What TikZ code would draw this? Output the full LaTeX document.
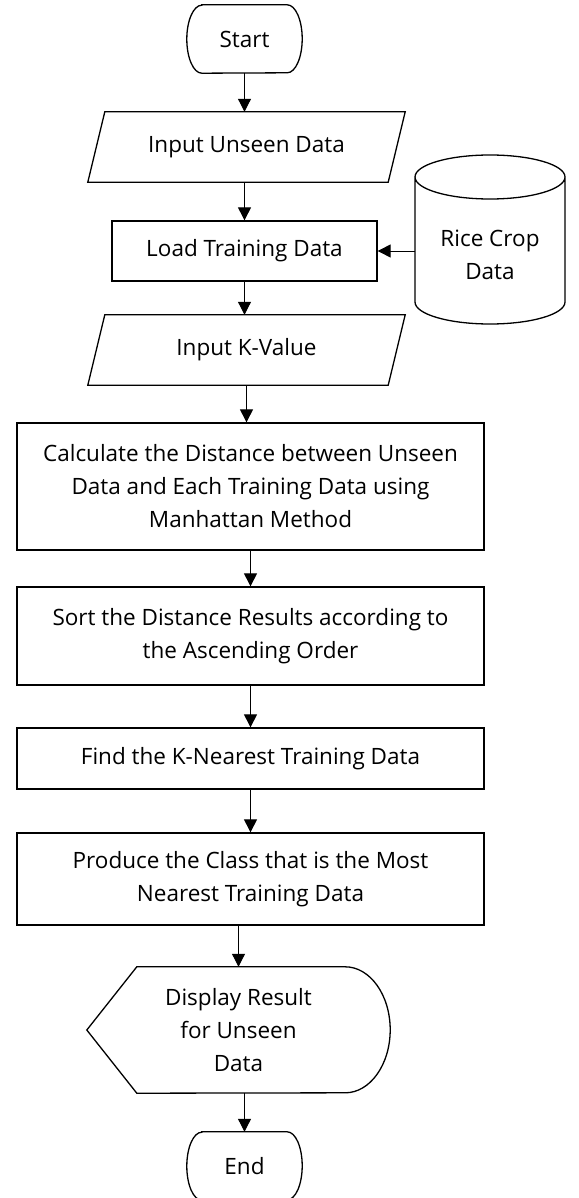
\documentclass[tikz,border=0pt]{standalone}
\usepackage{fontspec}
\setmainfont{Open Sans}
\usetikzlibrary{arrows.meta}
\tikzset{
  shp/.style={draw, line width=1.3pt},
  box/.style={shp, minimum width=467pt, align=center, inner sep=0pt},
  ghost/.style={align=center, inner sep=0pt},
  arr/.style={-{Triangle[length=13pt,width=13pt]}, line width=1pt},
}
\begin{document}
\begin{tikzpicture}[x=1pt, y=-1pt, font=\fontsize{22.5}{33}\selectfont]
\useasboundingbox (0,0) rectangle (578,1198);

% Start terminal
\node[ghost, minimum width=115pt, minimum height=68pt] (start) at (244.5,39) {Start};
\draw[shp] ([xshift=15pt]start.north west) -- ([xshift=-15pt]start.north east)
  arc[start angle=90, end angle=-90, x radius=15pt, y radius=34pt]
  -- ([xshift=15pt]start.south west)
  arc[start angle=270, end angle=90, x radius=15pt, y radius=34pt] -- cycle;

% Input Unseen Data
\node[ghost, minimum width=300pt, minimum height=70pt] (in1) at (246.5,147) {Input Unseen Data};
\draw[shp] ([xshift=8.5pt]in1.north west) -- ([xshift=8.5pt]in1.north east)
  -- ([xshift=-8.5pt]in1.south east) -- ([xshift=-8.5pt]in1.south west) -- cycle;

% Load Training Data
\node[shp, minimum width=265pt, minimum height=60pt, inner sep=0pt] (load) at (244.5,251) {Load Training Data};

% Rice Crop Data (cylinder)
\node[ghost, minimum width=150pt] (db) at (490,255) {Rice Crop\\Data};
\draw[shp] (415,177) -- (415,302)
  arc[start angle=180, end angle=360, x radius=75pt, y radius=22pt]
  -- (565,177)
  arc[start angle=0, end angle=180, x radius=75pt, y radius=22pt]
  arc[start angle=180, end angle=360, x radius=75pt, y radius=22pt];

% Input K-Value
\node[ghost, minimum width=300pt, minimum height=70pt] (kval) at (246.5,350) {Input K-Value};
\draw[shp] ([xshift=8.5pt]kval.north west) -- ([xshift=8.5pt]kval.north east)
  -- ([xshift=-8.5pt]kval.south east) -- ([xshift=-8.5pt]kval.south west) -- cycle;

% Process boxes
\node[box, minimum height=127pt] (calc) at (250.5,486.5) {Calculate the Distance between Unseen\\Data and Each Training Data using\\Manhattan Method};
\node[box, minimum height=98pt] (sort) at (250.5,636) {Sort the Distance Results according to\\the Ascending Order};
\node[box, minimum height=61pt] (find) at (250.5,758.5) {Find the K-Nearest Training Data};
\node[box, minimum height=92pt] (prod) at (250.5,879) {Produce the Class that is the Most\\Nearest Training Data};

% Display
\node[ghost, minimum width=303pt, minimum height=126pt] (disp) at (238.5,1030) {Display Result\\for Unseen\\Data};
\draw[shp] (disp.west) -- ([xshift=50pt]disp.north west) -- ([xshift=-45pt]disp.north east)
  arc[start angle=90, end angle=-90, x radius=45pt, y radius=63pt]
  -- ([xshift=50pt]disp.south west) -- cycle;

% End terminal
\node[ghost, minimum width=115pt, minimum height=68pt] (end) at (244.5,1166) {End};
\draw[shp] ([xshift=15pt]end.north west) -- ([xshift=-15pt]end.north east)
  arc[start angle=90, end angle=-90, x radius=15pt, y radius=34pt]
  -- ([xshift=15pt]end.south west)
  arc[start angle=270, end angle=90, x radius=15pt, y radius=34pt] -- cycle;

% Connectors
\draw[arr] (start.south) -- (start.south |- in1.north);
\draw[arr] (in1.south -| load.north) -- (load.north);
\draw[arr] (load.south) -- (load.south |- kval.north);
\draw[arr] (kval.south) -- (kval.south |- calc.north);
\draw[arr] (calc.south) -- (sort.north);
\draw[arr] (sort.south) -- (find.north);
\draw[arr] (find.south) -- (prod.north);
\draw[arr] (prod.south -| disp.north) -- (disp.north);
\draw[arr] (disp.south -| end.north) -- (end.north);
\draw[arr] (db.west |- load.east) -- (load.east);
\end{tikzpicture}
\end{document}
